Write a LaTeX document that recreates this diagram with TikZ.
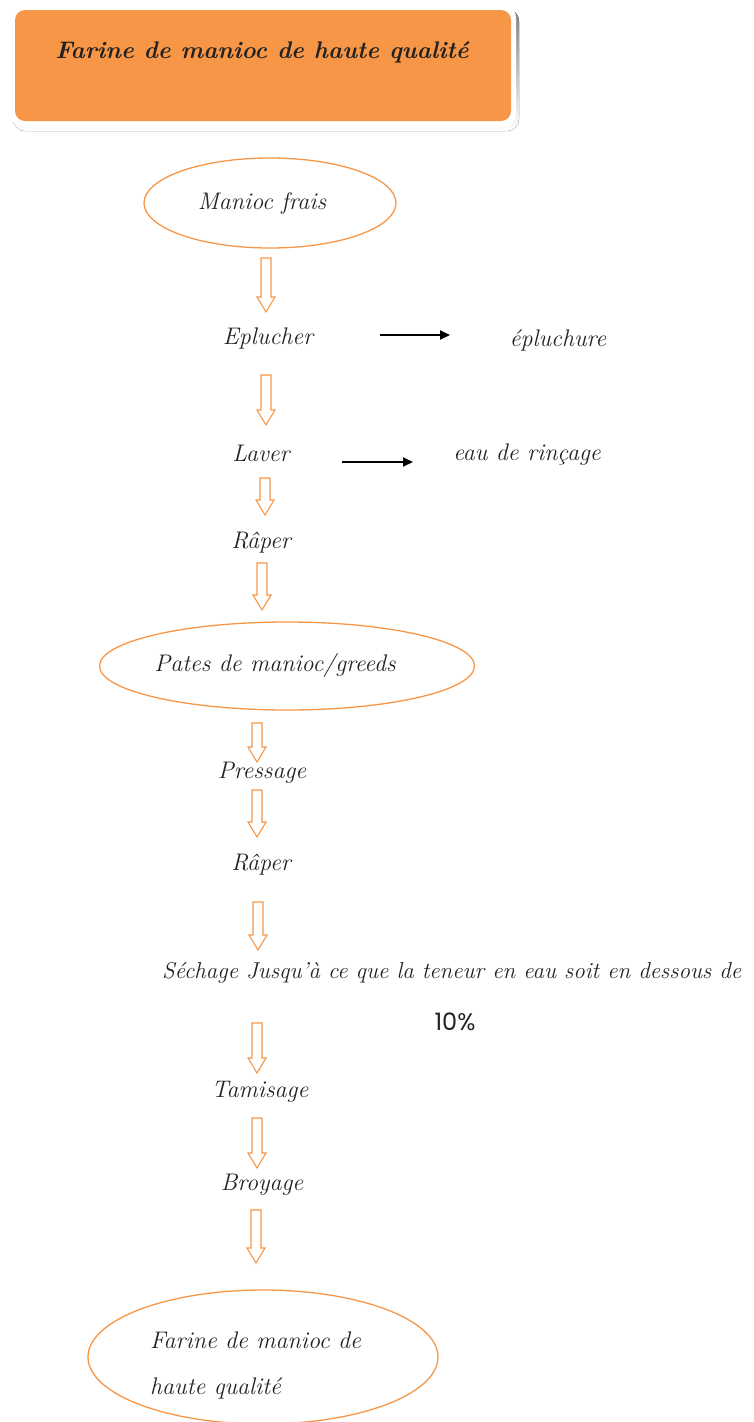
\documentclass[tikz,border=0pt]{standalone}
\usepackage{fontspec}
\newfontfamily\pctfont{Poppins}
\usetikzlibrary{shapes.geometric,arrows.meta}
\definecolor{orng}{HTML}{F79646}
\definecolor{ink}{HTML}{222222}
\definecolor{shade}{HTML}{E3CDBD}
\begin{document}
\begin{tikzpicture}[x=1pt,y=-1pt,
  lbl/.style={font=\fontsize{24}{28}\selectfont\itshape, text=ink, inner sep=0pt},
  oval/.style={draw=orng, line width=1.3pt, ellipse, inner sep=0pt},
  flow/.style={draw=orng, line width=1.1pt, fill=white, line join=miter},
  side/.style={-{Triangle[length=10pt,width=9pt]}, line width=1.8pt, black}]
\useasboundingbox (0,0) rectangle (753,1422);

% title box
\fill[shade, rounded corners=12pt] (13,9) rectangle (519,131);
\fill[white, rounded corners=12pt] (11,5) rectangle (516,127);
\node[fill=orng, rounded corners=10pt, minimum width=496pt, minimum height=111pt, inner sep=0pt] (titlebox) at (263,65.5) {};
\node[font=\fontsize{24}{28}\selectfont\bfseries\itshape, text=ink, inner sep=0pt] (titletext) at (262,52) {Farine de manioc de haute qualité};

% ellipses
\node[oval, minimum width=252pt, minimum height=90pt] (e1) at (270,203) {};
\node[lbl] (manioc) at (262,203) {Manioc frais};
\node[oval, minimum width=375pt, minimum height=88pt] (e2) at (287,666) {};
\node[lbl] (pates) at (275,665) {Pates de manioc/greeds};
\node[oval, minimum width=350pt, minimum height=134pt] (e3) at (263,1357) {};
\node[lbl, font=\fontsize{24}{46}\selectfont\itshape, align=left, anchor=west] (farine) at (150,1365) {Farine de manioc de\\haute qualité};

% steps
\node[lbl] (eplucher) at (268,338) {Eplucher};
\node[lbl] (epluchure) at (558,340) {épluchure};
\node[lbl] (laver) at (261,453) {Laver};
\node[lbl] (rincage) at (527,455) {eau de rinçage};
\node[lbl] (raper1) at (261,543) {Râper};
\node[lbl] (pressage) at (262,773) {Pressage};
\node[lbl] (raper2) at (261,865) {Râper};
\node[lbl, font=\fontsize{23}{27}\selectfont\itshape, anchor=west] (sechage) at (162,973) {Séchage Jusqu'à ce que la teneur en eau soit en dessous de};
\node[inner sep=0pt, font=\fontsize{24}{28}\selectfont\pctfont, text=ink] (pct) at (455,1022) {10\%};
\node[lbl] (tamisage) at (260,1092) {Tamisage};
\node[lbl] (broyage) at (262,1185) {Broyage};

% side arrows
\coordinate (s1a) at (380,335);
\coordinate (s1b) at (450,335);
\coordinate (s2a) at (342,462);
\coordinate (s2b) at (413,462);
\draw[side] (s1a) -- (s1b);
\draw[side] (s2a) -- (s2b);

% hollow block arrows
\foreach \x/\a/\b in {266/258/312, 266/375/425, 265/478/515, 262/563/610,
                      257/723/762, 257/790/837, 258/902/950, 257/1023/1073,
                      257/1118/1168, 256/1210/1263}{
  \draw[flow] (\x-5,\a) -- (\x+5,\a) -- (\x+5,\b-15) -- (\x+9,\b-15) -- (\x,\b)
              -- (\x-9,\b-15) -- (\x-5,\b-15) -- cycle;
}
\end{tikzpicture}
\end{document}
